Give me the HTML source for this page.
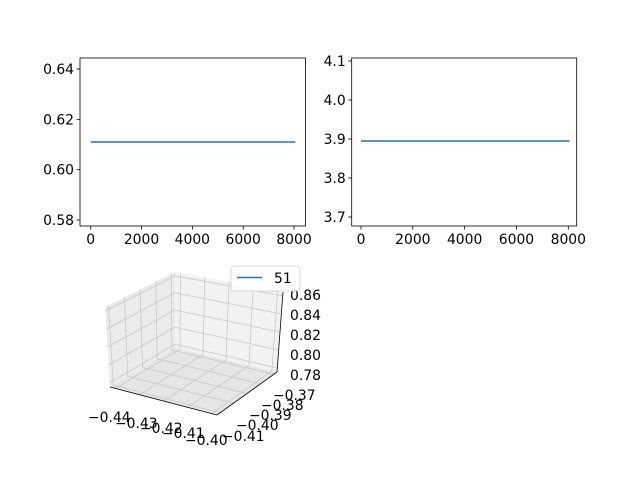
<!DOCTYPE html>
<html><head><meta charset="utf-8"><style>
body{margin:0;background:#fff}
svg text{font-family:"DejaVu Sans","Liberation Sans",sans-serif;font-size:13.9px;fill:#000}
</style></head><body>
<svg id="c" width="640" height="480" viewBox="0 0 640 480">
<rect width="640" height="480" fill="#fff"/>
<g id="p3d">
  <polygon points="110,387 175,348 175,272 105,307" fill="#ebebeb"/>
  <polygon points="175,348 277,372 283,292 175,272" fill="#f2f2f2"/>
  <polygon points="110,387 175,348 277,372 217,415" fill="#e6e6e6"/>
  <g id="grid3d" stroke="#c8c8c8" stroke-width="0.8" fill="none"></g>
  <line x1="110" y1="387" x2="217" y2="415" stroke="#000" stroke-width="0.8"/>
  <line x1="217" y1="415" x2="277" y2="372" stroke="#000" stroke-width="0.8"/>
  <line x1="283" y1="292" x2="277" y2="372" stroke="#000" stroke-width="0.8"/>
  <g id="lab3d">
    <text x="88" y="422">−0.44</text><text x="115" y="428">−0.43</text><text x="140" y="433">−0.42</text><text x="162" y="438">−0.41</text><text x="185" y="445">−0.40</text>
    <text x="273" y="400">−0.37</text><text x="261" y="410">−0.38</text><text x="249" y="420">−0.39</text><text x="236" y="430">−0.40</text><text x="222" y="441">−0.41</text>
    <text x="290" y="300">0.86</text><text x="290" y="320">0.84</text><text x="290" y="340">0.82</text><text x="290" y="360">0.80</text><text x="290" y="380">0.78</text>
  </g>
  <g>
    <rect x="231" y="266" width="69" height="25" rx="3" fill="#fff" fill-opacity="0.85" stroke="#d0d0d0" stroke-width="0.8"/>
    <line x1="237" y1="277.5" x2="262" y2="277.5" stroke="#1f77b4" stroke-width="1.5"/>
    <text x="274" y="283">51</text>
  </g>
</g>
</svg>
<script>
// Chart data
const xTicks = [0, 2000, 4000, 6000, 8000];
const leftYTicks = [0.58, 0.60, 0.62, 0.64];
const rightYTicks = [3.7, 3.8, 3.9, 4.0, 4.1];
const seriesX = [0, 8050];
const leftSeries = [0.611, 0.611];
const rightSeries = [3.895, 3.895];

const NS = "http://www.w3.org/2000/svg";
const svg = document.getElementById('c');
function mk(tag, attrs, parent){const e=document.createElementNS(NS,tag);for(const k in attrs)e.setAttribute(k,attrs[k]);(parent||svg).appendChild(e);return e;}

function drawPanel(name, box, xmap, ymap, yTicks, ys, fmt){
  const g = mk('g',{});
  
  
  const pts = seriesX.map((x,i)=>xmap(x)+','+ymap(ys[i])).join(' ');
  const pl = mk('polyline',{points:pts,fill:'none',stroke:'#1f77b4','stroke-width':1.5},g);
  
  
  const r = mk('rect',{x:box.l,y:box.t,width:box.r-box.l,height:box.b-box.t,fill:'none',stroke:'#000','stroke-width':0.8},g);
  
  
  xTicks.forEach(v=>{
    const x=xmap(v);
    const t=mk('line',{x1:x,x2:x,y1:box.b,y2:box.b+3.5,stroke:'#000','stroke-width':0.8},g);
    
    
    const tx=mk('text',{x:x,y:box.b+18,'text-anchor':'middle'},g);tx.textContent=String(v);
    
    
  });
  yTicks.forEach(v=>{
    const y=ymap(v);
    const t=mk('line',{x1:box.l-3.5,x2:box.l,y1:y,y2:y,stroke:'#000','stroke-width':0.8},g);
    
    
    const tx=mk('text',{x:box.l-6,y:y+5,'text-anchor':'end'},g);tx.textContent=v.toFixed(fmt);
    
    
  });
}
const L={l:80,r:305.5,t:58,b:226};
drawPanel('top-left-plot', L, x=>90.7+x*(203.3/8000), y=>220-(y-0.58)*(151/0.06), leftYTicks, leftSeries, 2);
const R={l:351.7,r:576.7,t:58,b:226};
drawPanel('top-right-plot', R, x=>361+x*(207.3/8000), y=>217-(y-3.7)*(156/0.4), rightYTicks, rightSeries, 1);

const gg=document.getElementById('grid3d');
function lerp(a,b,t){return [a[0]+(b[0]-a[0])*t,a[1]+(b[1]-a[1])*t];}
function ln(p,q){mk('line',{x1:p[0],y1:p[1],x2:q[0],y2:q[1]},gg);}
const A=[110,387],B=[175,348],C=[277,372],D=[217,415],E=[175,272],F=[105,307],G=[283,292];
for(let i=0;i<=4;i++){const t=0.05+i*0.225;
  const p=lerp(A,D,t), q=lerp(B,C,t); ln(p,q); ln(q,lerp(E,G,t));
  const r=lerp(D,C,t), s=lerp(A,B,t); ln(r,s); ln(s,lerp(F,E,t));
  const z1=lerp(A,F,t), z2=lerp(B,E,t), z3=lerp(C,G,t); ln(z1,z2); ln(z2,z3);
}
</script>
</body></html>
